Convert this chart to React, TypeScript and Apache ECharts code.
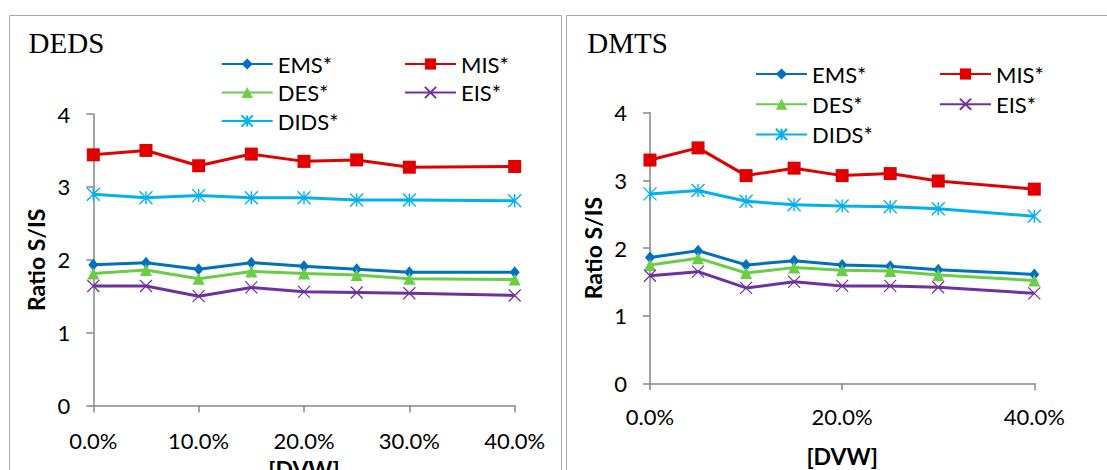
import React, { useEffect, useRef } from 'react';
import * as echarts from 'echarts';

// ---- data ----
const dvw = [0, 5, 10, 15, 20, 25, 30, 40];
const seriesNames = ['EMS*', 'MIS*', 'DES*', 'EIS*', 'DIDS*'];
const panelTitles = ['DEDS', 'DMTS'];
const yAxisName = 'Ratio S/IS';
const xAxisName = '[DVW]';
const yTicks = [0, 1, 2, 3, 4];

const dedsEMS = [1.93, 1.96, 1.87, 1.96, 1.91, 1.87, 1.83, 1.83];
const dedsMIS = [3.44, 3.50, 3.29, 3.45, 3.35, 3.37, 3.27, 3.28];
const dedsDES = [1.81, 1.86, 1.74, 1.84, 1.81, 1.79, 1.74, 1.73];
const dedsEIS = [1.64, 1.64, 1.50, 1.62, 1.56, 1.55, 1.54, 1.51];
const dedsDIDS = [2.90, 2.85, 2.88, 2.85, 2.85, 2.82, 2.82, 2.81];

const dmtsEMS = [1.86, 1.96, 1.75, 1.81, 1.75, 1.73, 1.68, 1.61];
const dmtsMIS = [3.30, 3.48, 3.07, 3.18, 3.07, 3.10, 2.99, 2.87];
const dmtsDES = [1.75, 1.85, 1.63, 1.71, 1.67, 1.66, 1.60, 1.52];
const dmtsEIS = [1.59, 1.65, 1.41, 1.50, 1.44, 1.44, 1.42, 1.33];
const dmtsDIDS = [2.80, 2.85, 2.69, 2.64, 2.62, 2.61, 2.58, 2.47];

const panelData = [
  [dedsEMS, dedsMIS, dedsDES, dedsEIS, dedsDIDS],
  [dmtsEMS, dmtsMIS, dmtsDES, dmtsEIS, dmtsDIDS],
];

// ---- styles ----
const FONT = 'Lato';
const seriesStyle: Record<string, any> = {
  'EMS*': { color: '#0070C0', symbol: 'diamond', size: [10, 12] },
  'MIS*': { color: '#E00000', symbol: 'rect', size: 13 },
  'DES*': { color: '#6ACD45', symbol: 'triangle', size: 12 },
  'EIS*': { color: '#7030A0', symbol: 'path://M0,0L10,10M10,0L0,10', size: 12, stroke: 1.2 },
  'DIDS*': { color: '#00B0F0', symbol: 'path://M5,0L5,10M0,0L10,10M10,0L0,10', size: 13, stroke: 1.4 },
};

const grids = [
  { left: 93.3, top: 114, width: 421.4, height: 291.5, outerBoundsMode: 'none', containLabel: false },
  { left: 650, top: 112.7, width: 384.3, height: 270.6, outerBoundsMode: 'none', containLabel: false },
];
const xIntervals = [10, 20];
const xLabelMargins = [24, 22];
const xNameGaps = [52, 61];

function buildOption() {
  const axisColor = '#868686';
  const labelStyle = { fontFamily: FONT, fontSize: 22, color: '#000' };
  const series: any[] = [];
  panelData.forEach((arrs, p) => {
    arrs.forEach((vals, i) => {
      const name = seriesNames[i];
      const st = seriesStyle[name];
      series.push({
        type: 'line',
        name,
        xAxisIndex: p,
        yAxisIndex: p,
        data: dvw.map((x, k) => [x, vals[k]]),
        symbol: st.symbol,
        symbolSize: st.size,
        symbolKeepAspect: true,
        lineStyle: { color: st.color, width: 3 },
        itemStyle: st.stroke
          ? { color: st.color, borderColor: st.color, borderWidth: st.stroke }
          : { color: st.color, borderWidth: 0 },
        emphasis: { disabled: true },
        z: 2 + i,
      });
    });
  });

  const legendBase = {
    orient: 'vertical',
    itemWidth: 51,
    itemHeight: 14,
    padding: 0,
    selectedMode: false,
    textStyle: { fontFamily: FONT, fontSize: 22, lineHeight: 22, color: '#000' },
  };

  return {
    animation: false,
    backgroundColor: '#fff',
    grid: grids,
    legend: [
      { ...legendBase, left: 220.7, top: 53, itemGap: 6.5, data: ['EMS*', 'DES*', 'DIDS*'] },
      { ...legendBase, left: 404, top: 53, itemGap: 6.5, data: ['MIS*', 'EIS*'] },
      { ...legendBase, left: 755, top: 63, itemGap: 8.2, data: ['EMS*', 'DES*', 'DIDS*'] },
      { ...legendBase, left: 939, top: 63, itemGap: 8.2, data: ['MIS*', 'EIS*'] },
    ],
    xAxis: [0, 1].map((p) => ({
      type: 'value',
      gridIndex: p,
      min: 0,
      max: 40,
      interval: xIntervals[p],
      name: xAxisName,
      nameLocation: 'middle',
      nameGap: xNameGaps[p],
      nameTextStyle: { fontFamily: FONT, fontSize: 23, fontWeight: 'bold', color: '#000' },
      axisLine: { show: true, lineStyle: { color: axisColor, width: 1.5 } },
      axisTick: { show: true, length: 7, lineStyle: { color: axisColor, width: 1.5 } },
      splitLine: { show: false },
      axisLabel: {
        ...labelStyle,
        margin: xLabelMargins[p],
        formatter: (v: number) => v.toFixed(1) + '%',
      },
    })),
    yAxis: [0, 1].map((p) => ({
      type: 'value',
      gridIndex: p,
      min: yTicks[0],
      max: yTicks[yTicks.length - 1],
      interval: 1,
      name: yAxisName,
      nameLocation: 'middle',
      nameGap: 46,
      nameRotate: 90,
      nameTextStyle: { fontFamily: FONT, fontSize: 23, fontWeight: 'bold', color: '#000' },
      axisLine: { show: true, lineStyle: { color: axisColor, width: 1.5 } },
      axisTick: { show: true, length: 7, lineStyle: { color: axisColor, width: 1.5 } },
      splitLine: { show: false },
      axisLabel: { ...labelStyle, margin: 23 },
    })),
    graphic: [
      {
        type: 'rect',
        z: -10,
        shape: { x: 9.5, y: 15.5, width: 552, height: 480 },
        style: { fill: 'none', stroke: '#A6A6A6', lineWidth: 1 },
      },
      {
        type: 'rect',
        z: -10,
        shape: { x: 566.5, y: 15.5, width: 560, height: 480 },
        style: { fill: 'none', stroke: '#A6A6A6', lineWidth: 1 },
      },
      {
        type: 'text',
        x: 28.6,
        y: 43,
        style: {
          text: panelTitles[0],
          font: '29px "Liberation Serif"',
          fill: '#000',
          align: 'left',
          verticalAlign: 'middle',
        },
      },
      {
        type: 'text',
        x: 587.2,
        y: 42.5,
        style: {
          text: panelTitles[1],
          font: '29px "Liberation Serif"',
          fill: '#000',
          align: 'left',
          verticalAlign: 'middle',
        },
      },
    ],
    series,
  };
}

export default function App() {
  const ref = useRef<HTMLDivElement>(null);
  useEffect(() => {
    const chart = echarts.init(ref.current!, null, { renderer: 'svg' });
    chart.setOption(buildOption() as any);
    return () => chart.dispose();
  }, []);
  return (
    <div
      ref={ref}
      style={{ position: 'fixed', left: 0, top: 0, width: 1107, height: 470, background: '#fff' }}
    />
  );
}
